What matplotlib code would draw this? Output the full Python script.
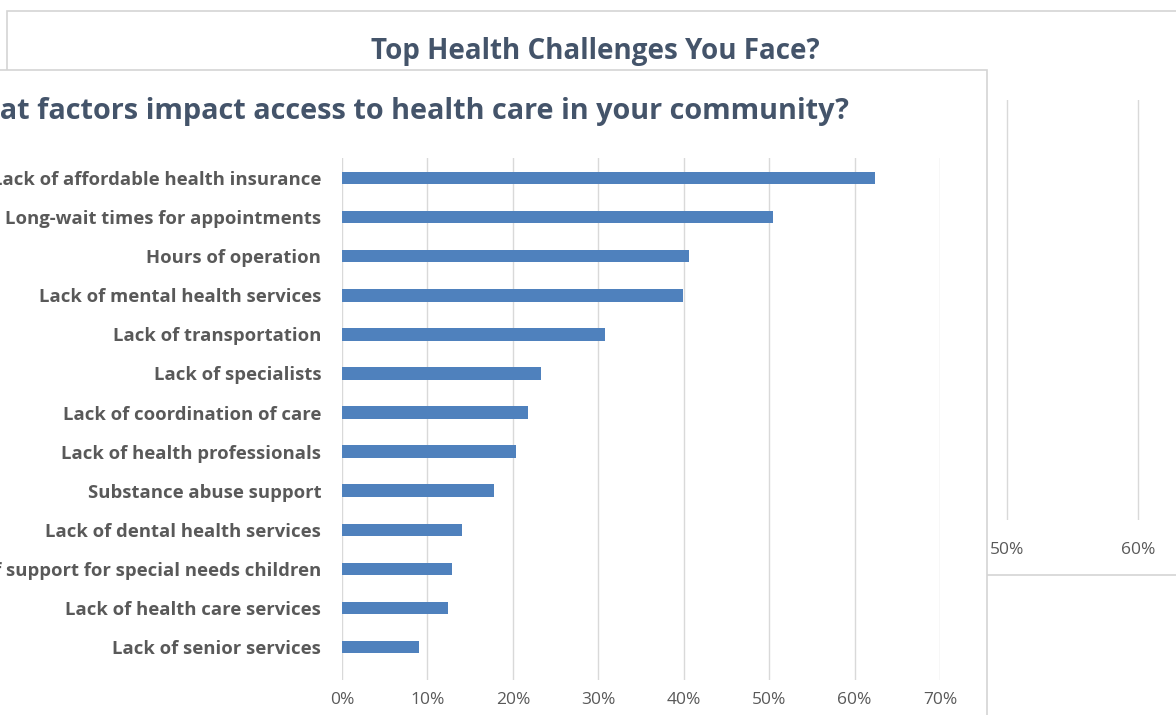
import numpy as np
import matplotlib
matplotlib.use('Agg')
import matplotlib.pyplot as plt
from matplotlib.patches import Rectangle
from matplotlib.ticker import PercentFormatter

# ------------------------------------------------
# DATA
# ------------------------------------------------

factors = [
    'Lack of affordable health insurance',
    'Long-wait times for appointments',
    'Hours of operation',
    'Lack of mental health services',
    'Lack of transportation',
    'Lack of specialists',
    'Lack of coordination of care',
    'Lack of health professionals',
    'Substance abuse support',
    'Lack of dental health services',
    'Lack of support for special needs children',
    'Lack of health care services',
    'Lack of senior services',
]
shares = [0.624, 0.504, 0.406, 0.399, 0.308, 0.233, 0.218,
          0.204, 0.178, 0.141, 0.129, 0.124, 0.090]

front_title = 'What factors impact access to health care in your community?'
back_title = 'Top Health Challenges You Face?'
front_ticks = [0, 0.1, 0.2, 0.3, 0.4, 0.5, 0.6, 0.7]
back_ticks = [0, 0.1, 0.2, 0.3, 0.4, 0.5, 0.6]

# ------------------------------------------------
# STYLE
# ------------------------------------------------

plt.rcParams['font.family'] = ['Open Sans', 'DejaVu Sans']

W, H = 1176, 715
bar_col = '#4F81BD'
grid_col = '#D9D9D9'
text_col = '#595959'
title_col = '#44546A'
frame_col = '#D4D4D4'

def box(x0, y0, x1, y1):
    # pixel box (top-left origin) -> figure rect
    return [x0 / W, 1 - y1 / H, (x1 - x0) / W, (y1 - y0) / H]

fig = plt.figure(figsize=(W / 100, H / 100), dpi=100)
fig.patch.set_facecolor('white')

# ------------------------------------------------
# BACK CHART (mostly hidden)
# ------------------------------------------------

fig.add_artist(Rectangle((7 / W, 1 - 575 / H), 1.2, (575 - 11) / H,
                         transform=fig.transFigure, fc='white', ec=frame_col,
                         lw=1.2, zorder=0.1))

fig.text(595 / W, 1 - 51 / H, back_title, ha='center', va='center',
         fontsize=20, fontweight='bold', color=title_col, zorder=0.6)

ax_back = fig.add_axes(box(352, 100, 1176, 520), zorder=0.5)
ax_back.set_xlim(0, 824 / 1310)
ax_back.set_ylim(0, 1)
ax_back.set_xticks(back_ticks)
ax_back.xaxis.set_major_formatter(PercentFormatter(1.0, decimals=0))
ax_back.set_yticks([])
ax_back.grid(axis='x', color=grid_col, lw=1)
ax_back.tick_params(axis='x', length=0, pad=16, labelsize=12.5, labelcolor=text_col)
for s in ax_back.spines.values():
    s.set_visible(False)
ax_back.patch.set_alpha(0)

# ------------------------------------------------
# FRONT CHART
# ------------------------------------------------

fig.add_artist(Rectangle((-0.01, -0.05), (987 / W) + 0.01, 1 - 70 / H + 0.05,
                         transform=fig.transFigure, fc='white', ec=frame_col,
                         lw=1.2, zorder=1))

fig.text(849 / W, 1 - 111 / H, front_title, ha='right', va='center',
         fontsize=20.8, fontweight='bold', color=title_col, zorder=1.5)

ax = fig.add_axes(box(342, 158, 940, 680), zorder=2)
y = np.arange(len(factors))
ax.barh(y, shares, height=0.32, color=bar_col, zorder=3)
ax.set_ylim(12.84, -0.51)
ax.set_xlim(0, 0.7)
ax.set_xticks(front_ticks)
ax.xaxis.set_major_formatter(PercentFormatter(1.0, decimals=0))
ax.set_yticks(y)
ax.set_yticklabels(factors, fontweight='bold')
ax.grid(axis='x', color=grid_col, lw=1, zorder=0)
ax.tick_params(axis='x', length=0, pad=9, labelsize=12.5, labelcolor=text_col)
ax.tick_params(axis='y', length=0, pad=15, labelsize=13.3, labelcolor=text_col)
for s in ax.spines.values():
    s.set_visible(False)
ax.patch.set_alpha(0)

fig.savefig('out.png', dpi=100)
